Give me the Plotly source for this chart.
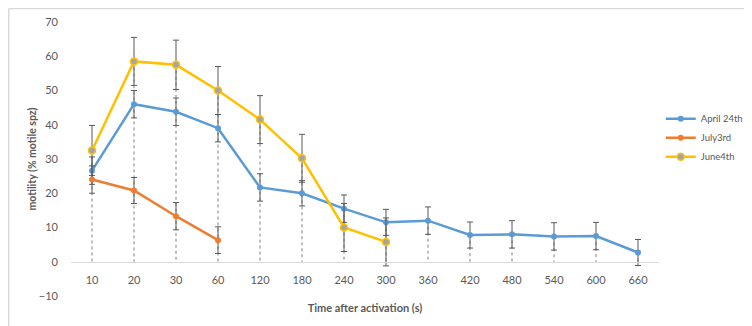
import plotly.graph_objects as go

categories = ["10", "20", "30", "60", "120", "180", "240", "300", "360", "420", "480", "540", "600", "660"]

april_vals = [26.6, 46.0, 43.8, 39.0, 21.7, 20.0, 15.5, 11.5, 12.0, 7.8, 8.0, 7.4, 7.5, 2.7]
april_err = [4.0, 4.0, 4.0, 4.0, 4.0, 3.7, 4.0, 3.8, 4.0, 3.8, 4.0, 4.0, 4.0, 3.8]

july_cats = ["10", "20", "30", "60"]
july_vals = [24.0, 20.8, 13.3, 6.3]
july_err = [4.0, 3.8, 4.0, 3.9]

june_cats = ["10", "20", "30", "60", "120", "180", "240", "300"]
june_vals = [32.5, 58.5, 57.5, 50.0, 41.5, 30.2, 10.0, 5.8]
june_err = [7.3, 7.0, 7.2, 7.0, 7.0, 7.0, 7.0, 7.0]

legend_names = ["April 24th", "July3rd", "June4th"]
y_ticks = [-10, 0, 10, 20, 30, 40, 50, 60, 70]

BLUE = "#5B9BD5"
ORANGE = "#ED7D31"
YELLOW = "#FFC000"
GREY_FILL = "#A5A5A5"
TXT = "#595959"

# drop lines: from highest value in each category down to 0
series = [(categories, april_vals), (july_cats, july_vals), (june_cats, june_vals)]
drop_x, drop_y = [], []
for c in categories:
    top = max(v for cats, vals in series for cc, v in zip(cats, vals) if cc == c)
    drop_x += [c, c, None]
    drop_y += [top, 0, None]

fig = go.Figure()
fig.add_trace(go.Scatter(x=drop_x, y=drop_y, mode="lines", showlegend=False, hoverinfo="skip",
                         line=dict(color="#7f7f7f", width=1, dash="3px,3px")))

errstyle = dict(type="data", color="#595959", thickness=1, width=3)

fig.add_trace(go.Scatter(x=categories, y=april_vals, name=legend_names[0], mode="lines+markers",
                         line=dict(color=BLUE, width=2.5),
                         marker=dict(color=BLUE, size=6),
                         error_y=dict(array=april_err, **errstyle)))
fig.add_trace(go.Scatter(x=july_cats, y=july_vals, name=legend_names[1], mode="lines+markers",
                         line=dict(color=ORANGE, width=2.5),
                         marker=dict(color=ORANGE, size=6),
                         error_y=dict(array=july_err, **errstyle)))
fig.add_trace(go.Scatter(x=june_cats, y=june_vals, name=legend_names[2], mode="lines+markers",
                         line=dict(color=YELLOW, width=2.5),
                         marker=dict(color=GREY_FILL, size=7, line=dict(color=YELLOW, width=1.5)),
                         error_y=dict(array=june_err, **errstyle)))

# position of y=0 in plot-area fraction
zero_pos = (0 - (-10)) / (70 - (-10))

fig.update_layout(
    width=744, height=318,
    margin=dict(l=63, r=93, t=14, b=30, autoexpand=False),
    paper_bgcolor="white", plot_bgcolor="white",
    font=dict(family="Lato, Open Sans, sans-serif", size=11, color=TXT),
    xaxis=dict(type="category", categoryorder="array", categoryarray=categories,
               range=[-0.5, len(categories) - 0.5],
               anchor="free", position=zero_pos, automargin=False,
               showline=True, linecolor="#d9d9d9", linewidth=1,
               showgrid=False, ticks="", zeroline=False, ticklabelstandoff=8,
               tickfont=dict(size=11, color=TXT),
               title=dict(text="<b>Time after activation (s)</b>", font=dict(size=11, color=TXT), standoff=19)),
    yaxis=dict(range=[-10, 70], tickvals=y_ticks, showgrid=False, zeroline=False, showline=False,
               automargin=False, ticklabelstandoff=12,
               ticks="", tickfont=dict(size=11, color=TXT),
               title=dict(text="<b>motility (% motile spz)</b>", font=dict(size=10.5, color=TXT), standoff=0)),
    legend=dict(x=1.003, y=0.70, xanchor="left", yanchor="top", bgcolor="rgba(0,0,0,0)",
                font=dict(size=9.5, color=TXT), itemwidth=30, tracegroupgap=4),
    shapes=[
        dict(type="line", xref="paper", yref="paper", x0=-0.106, x1=1.2, y0=1.049, y1=1.049,
             line=dict(color="#d9d9d9", width=1.5)),
        dict(type="line", xref="paper", yref="paper", x0=-0.106, x1=-0.106, y0=1.049, y1=-0.2,
             line=dict(color="#d9d9d9", width=1.5)),
    ],
)

fig.write_html("out.html")
